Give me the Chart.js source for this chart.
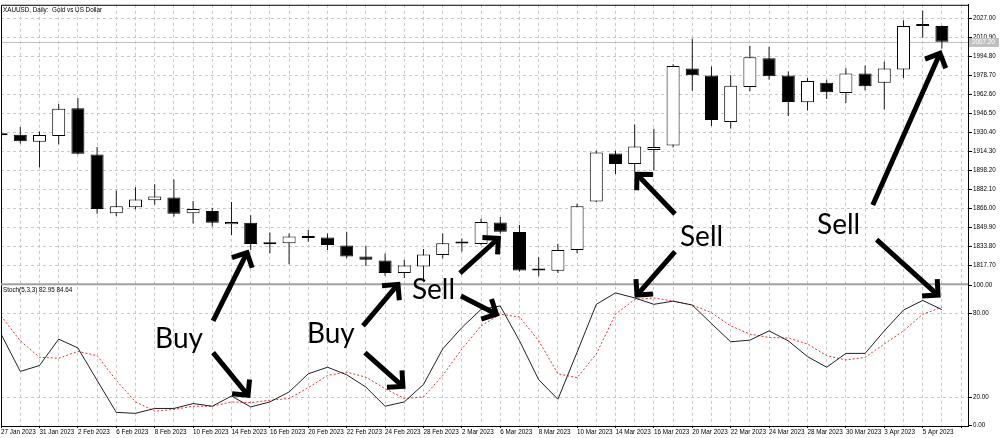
<!DOCTYPE html>
<html>
<head>
<meta charset="utf-8">
<script src="https://cdn.jsdelivr.net/npm/chart.js@4.4.0/dist/chart.umd.min.js"></script>
<style>
  html, body { margin: 0; padding: 0; background: #fff; }
  canvas { display: block; }
</style>
</head>
<body>
<canvas id="chart" width="1000" height="438"></canvas>
<script>
// XAUUSD daily bars, 27 Jan - 6 Apr 2023
const dates = ['27 Jan 2023', '30 Jan 2023', '31 Jan 2023', '1 Feb 2023', '2 Feb 2023', '3 Feb 2023',
  '6 Feb 2023', '7 Feb 2023', '8 Feb 2023', '9 Feb 2023', '10 Feb 2023', '13 Feb 2023', '14 Feb 2023',
  '15 Feb 2023', '16 Feb 2023', '17 Feb 2023', '20 Feb 2023', '21 Feb 2023', '22 Feb 2023', '23 Feb 2023',
  '24 Feb 2023', '27 Feb 2023', '28 Feb 2023', '1 Mar 2023', '2 Mar 2023', '3 Mar 2023', '6 Mar 2023',
  '7 Mar 2023', '8 Mar 2023', '9 Mar 2023', '10 Mar 2023', '13 Mar 2023', '14 Mar 2023', '15 Mar 2023',
  '16 Mar 2023', '17 Mar 2023', '20 Mar 2023', '21 Mar 2023', '22 Mar 2023', '23 Mar 2023', '24 Mar 2023',
  '27 Mar 2023', '28 Mar 2023', '29 Mar 2023', '30 Mar 2023', '31 Mar 2023', '3 Apr 2023', '4 Apr 2023',
  '5 Apr 2023', '6 Apr 2023'];

const opens = [1928.5, 1928.4, 1922.3, 1927.3, 1950.9, 1911.6, 1861.8, 1866.8, 1872.7, 1875.2,
  1861.8, 1863.7, 1852.5, 1853.6, 1835.4, 1836.2, 1841.2, 1841.2, 1834.3, 1825.0,
  1821.7, 1811.0, 1816.6, 1826.4, 1836.4, 1835.7, 1853.9, 1845.8, 1813.5, 1813.0,
  1830.6, 1871.8, 1912.5, 1903.5, 1915.5, 1919.2, 1984.5, 1978.6, 1939.1, 1968.8,
  1993.2, 1978.6, 1955.9, 1972.4, 1963.7, 1980.3, 1972.4, 1983.7, 2021.0, 2020.7];
const highs = [1931.0, 1934.9, 1931.0, 1954.5, 1959.5, 1917.9, 1881.1, 1883.9, 1886.4, 1890.3,
  1872.1, 1866.5, 1871.3, 1860.1, 1845.4, 1844.6, 1847.5, 1844.6, 1846.0, 1834.0,
  1827.5, 1822.2, 1831.5, 1844.6, 1840.4, 1857.2, 1858.6, 1851.7, 1824.4, 1835.9,
  1869.8, 1914.7, 1914.7, 1937.1, 1933.5, 1988.1, 2010.0, 1986.2, 1979.1, 2003.9,
  2003.0, 1982.0, 1976.4, 1974.9, 1984.8, 1987.0, 1990.4, 2025.4, 2033.8, 2021.0];
const lows = [1926.0, 1920.9, 1900.7, 1920.3, 1911.6, 1861.4, 1859.5, 1865.1, 1869.0, 1858.9,
  1853.0, 1850.5, 1843.3, 1830.6, 1827.8, 1818.5, 1837.6, 1830.6, 1823.6, 1816.9,
  1808.8, 1806.8, 1804.0, 1823.6, 1829.2, 1834.9, 1844.6, 1812.4, 1808.2, 1811.0,
  1827.8, 1871.3, 1895.1, 1896.5, 1898.0, 1917.5, 1965.7, 1935.8, 1933.7, 1965.2,
  1974.9, 1944.2, 1948.9, 1958.7, 1955.3, 1966.0, 1949.7, 1976.4, 2010.6, 2001.6];
const closes = [1928.0, 1922.8, 1928.2, 1950.3, 1912.2, 1865.4, 1867.6, 1873.5, 1876.0, 1861.4,
  1865.4, 1853.6, 1854.4, 1835.7, 1836.5, 1842.1, 1840.8, 1834.8, 1825.0, 1822.2,
  1811.0, 1817.4, 1826.7, 1836.2, 1836.0, 1854.4, 1846.0, 1813.2, 1813.2, 1830.6,
  1867.6, 1913.3, 1903.5, 1918.3, 1918.0, 1986.7, 1978.9, 1940.8, 1969.9, 1994.0,
  1978.0, 1956.2, 1973.9, 1964.3, 1980.3, 1969.4, 1984.5, 2020.7, 2020.5, 2007.2];

// Stochastic (5,3,3): %K main line and %D signal line
const stochK = [65.4, 38.7, 42.9, 61.8, 55.5, 32.3, 9.4, 8.7, 12.2, 12.2,
  15.7, 13.8, 21.1, 13.3, 16.9, 24.0, 37.0, 41.7, 36.3, 27.5,
  13.8, 16.9, 29.4, 54.8, 70.1, 83.1, 85.5, 60.6, 32.8, 18.8,
  52.4, 86.7, 94.9, 91.3, 86.7, 89.0, 86.2, 72.9, 59.9, 61.1,
  67.7, 60.6, 49.3, 41.7, 51.6, 51.6, 67.7, 82.6, 89.5, 82.95];
const stochD = [78.4, 60.6, 48.8, 48.1, 53.0, 50.0, 32.3, 16.9, 10.3, 11.5,
  13.8, 13.8, 16.9, 16.4, 18.1, 19.3, 27.1, 35.8, 38.2, 34.6,
  26.4, 19.3, 20.4, 35.8, 54.8, 71.3, 79.6, 77.7, 60.6, 37.0,
  34.2, 51.2, 79.6, 90.2, 91.3, 89.0, 86.2, 80.7, 71.3, 65.4,
  63.0, 62.6, 58.3, 50.0, 46.9, 48.8, 58.3, 67.7, 79.6, 84.64];

const priceTicks = [1817.7, 1833.8, 1849.9, 1866.0, 1882.1, 1898.2, 1914.3, 1930.4,
  1946.5, 1962.6, 1978.7, 1994.8, 2010.9, 2027.0];
const stochTicks = [0, 20, 80, 100];

// hand-drawn annotations, placed in data space: [bar index, axis, value]
const notes = [
  { text: 'Buy', at: [8.02, 'y2', 55.7] },
  { text: 'Buy', at: [15.93, 'y2', 59.2] },
  { text: 'Sell', at: [21.4, 'y2', 90.4] },
  { text: 'Sell', at: [35.36, 'y', 1834.3] },
  { text: 'Sell', at: [42.5, 'y', 1844.4] }
];
const arrows = [
  { from: [11.04, 'y2', 74.8], to: [12.81, 'y', 1828.4] },
  { from: [11.04, 'y2', 52.1], to: [12.86, 'y2', 21.6] },
  { from: [18.85, 'y2', 71.3], to: [20.67, 'y2', 101] },
  { from: [18.95, 'y2', 52.1], to: [20.93, 'y2', 28.0] },
  { from: [23.9, 'y', 1811.0], to: [25.9, 'y', 1840.4] },
  { from: [23.95, 'y2', 92.6], to: [25.8, 'y2', 79.7] },
  { from: [35.1, 'y', 1861.2], to: [33.12, 'y', 1894.8] },
  { from: [35.1, 'y', 1829.2], to: [33.12, 'y2', 93.3] },
  { from: [45.4, 'y', 1868.7], to: [48.9, 'y', 1997.4] },
  { from: [45.6, 'y', 1839.3], to: [48.8, 'y2', 93.3] }
];

const smallFont = { family: 'Liberation Sans', size: 6.3 };
const gridGray = '#c8c8c8';

function pt(chart, p) {
  return [chart.scales.x.getPixelForValue(p[0]), chart.scales[p[1]].getPixelForValue(p[2])];
}

function drawArrow(ctx, x1, y1, x2, y2) {
  const a = Math.atan2(y2 - y1, x2 - x1);
  const head = 16;
  ctx.lineWidth = 5;
  ctx.lineCap = 'butt';
  ctx.lineJoin = 'miter';
  ctx.strokeStyle = '#000';
  ctx.beginPath();
  ctx.moveTo(x1, y1);
  ctx.lineTo(x2 - Math.cos(a) * 2, y2 - Math.sin(a) * 2);
  ctx.stroke();
  ctx.beginPath();
  ctx.moveTo(x2 - head * Math.cos(a - Math.PI / 4), y2 - head * Math.sin(a - Math.PI / 4));
  ctx.lineTo(x2, y2);
  ctx.lineTo(x2 - head * Math.cos(a + Math.PI / 4), y2 - head * Math.sin(a + Math.PI / 4));
  ctx.stroke();
}

const decor = {
  id: 'decor',
  beforeDatasetsDraw(chart) {
    const { ctx, chartArea: a, scales } = chart;
    // current bid line
    const last = closes[closes.length - 1];
    const py = Math.round(scales.y.getPixelForValue(last)) + 0.5;
    ctx.save();
    ctx.strokeStyle = '#c0c0c0';
    ctx.lineWidth = 1;
    ctx.beginPath();
    ctx.moveTo(a.left, py);
    ctx.lineTo(a.right, py);
    ctx.stroke();
    ctx.restore();
  },
  afterDraw(chart) {
    const { ctx, chartArea: a, scales } = chart;
    ctx.save();
    // frame and pane separator
    ctx.strokeStyle = '#000';
    ctx.lineWidth = 1;
    ctx.beginPath();
    ctx.moveTo(a.left + 0.5, a.bottom);
    ctx.lineTo(a.left + 0.5, a.top + 0.5);
    ctx.lineTo(a.right, a.top + 0.5);
    ctx.stroke();
    ctx.fillStyle = '#a0a0a0';
    ctx.fillRect(a.left, scales.y2.top - 1, a.right - a.left, 2);

    // price label box
    const last = closes[closes.length - 1];
    const py = Math.round(scales.y.getPixelForValue(last));
    ctx.fillStyle = '#c0c0c0';
    ctx.fillRect(a.right + 1, py - 4, 30, 9);
    ctx.fillStyle = '#fff';
    ctx.font = '6.3px "Liberation Sans"';
    ctx.textBaseline = 'middle';
    ctx.textAlign = 'left';
    ctx.fillText(last.toFixed(2), a.right + 4, py + 0.5);

    // pane captions
    ctx.fillStyle = '#000';
    ctx.fillText('XAUUSD, Daily:  Gold vs US Dollar', a.left + 2, a.top + 5);
    ctx.fillText('Stoch(5,3,3) ' + stochK[stochK.length - 1].toFixed(2) + ' ' +
      stochD[stochD.length - 1].toFixed(2), a.left + 2, scales.y2.top + 6);

    // annotations
    ctx.font = '28px Lato';
    ctx.textBaseline = 'alphabetic';
    notes.forEach(n => {
      const [x, y] = pt(chart, n.at);
      ctx.fillText(n.text, x, y);
    });
    arrows.forEach(ar => {
      const [x1, y1] = pt(chart, ar.from);
      const [x2, y2] = pt(chart, ar.to);
      drawArrow(ctx, x1, y1, x2, y2);
    });
    ctx.restore();
  }
};

const idx = dates.map((d, i) => i);

const ctx = document.getElementById('chart').getContext('2d');
const chart = new Chart(ctx, {
  data: {
    datasets: [
      {
        type: 'bar',
        label: 'bodies',
        order: 0,
        yAxisID: 'y',
        data: idx.map(i => ({ x: i, y: [opens[i], closes[i]] })),
        backgroundColor: idx.map(i => closes[i] >= opens[i] ? '#ffffff' : '#000000'),
        borderColor: '#000',
        borderWidth: 1,
        borderSkipped: false,
        barThickness: 13,
        minBarLength: 2,
        grouped: false,
        inflateAmount: 0
      },
      {
        type: 'bar',
        label: 'wicks',
        order: 1,
        yAxisID: 'y',
        data: idx.map(i => ({ x: i, y: [lows[i], highs[i]] })),
        backgroundColor: '#1a1a1a',
        borderWidth: 0,
        barThickness: 1,
        grouped: false,
        inflateAmount: 0
      },
      {
        type: 'line',
        label: 'Main',
        order: 0,
        yAxisID: 'y2',
        data: idx.map(i => ({ x: i, y: stochK[i] })),
        borderColor: '#202020',
        borderWidth: 1,
        pointRadius: 0,
        tension: 0
      },
      {
        type: 'line',
        label: 'Signal',
        order: 0,
        yAxisID: 'y2',
        data: idx.map(i => ({ x: i, y: stochD[i] })),
        borderColor: '#e83030',
        borderWidth: 1,
        borderDash: [2, 2],
        pointRadius: 0,
        tension: 0
      }
    ]
  },
  options: {
    responsive: false,
    animation: false,
    devicePixelRatio: 1,
    layout: { padding: { top: 1, left: 1, right: 0, bottom: 0 } },
    plugins: { legend: { display: false }, tooltip: { enabled: false } },
    scales: {
      x: {
        type: 'linear',
        position: 'bottom',
        offset: false,
        min: -0.005,
        max: 50.36,
        afterFit: s => { s.height = 12; },
        ticks: {
          stepSize: 1,
          autoSkip: false,
          maxRotation: 0,
          includeBounds: false,
          align: 'start',
          padding: 0,
          color: '#000',
          font: smallFont,
          callback: v => {
            const i = Math.round(v);
            return (i % 2 === 0 && dates[i]) ? dates[i] : '';
          }
        },
        grid: {
          offset: false,
          color: gridGray,
          tickLength: 2,
          tickColor: c => (c.tick && Math.round(c.tick.value) % 2 === 0) ? '#000' : 'rgba(0,0,0,0)'
        },
        border: { display: true, color: '#000', dash: [3, 3] }
      },
      y: {
        type: 'linear',
        position: 'right',
        stack: 'panes',
        stackWeight: 282,
        min: 1801.5,
        max: 2038.6,
        afterFit: s => { s.width = 32; },
        afterBuildTicks: s => { s.ticks = priceTicks.map(v => ({ value: v })); },
        ticks: {
          padding: 1,
          color: '#000',
          font: smallFont,
          callback: v => Number(v).toFixed(2)
        },
        grid: { color: gridGray, tickLength: 4, tickColor: '#000' },
        border: { display: true, color: '#000', dash: [3, 3] }
      },
      y2: {
        type: 'linear',
        position: 'right',
        stack: 'panes',
        stackWeight: 143,
        min: -0.35,
        max: 101.06,
        afterFit: s => { s.width = 32; },
        afterBuildTicks: s => { s.ticks = stochTicks.map(v => ({ value: v })); },
        ticks: {
          padding: 1,
          color: '#000',
          font: smallFont,
          callback: v => Number(v).toFixed(2)
        },
        grid: {
          color: c => (c.tick && (c.tick.value === 20 || c.tick.value === 80)) ? gridGray : 'rgba(0,0,0,0)',
          tickLength: 4,
          tickColor: '#000'
        },
        border: { display: true, color: '#000', dash: [3, 3] }
      }
    }
  },
  plugins: [decor]
});
</script>
</body>
</html>
